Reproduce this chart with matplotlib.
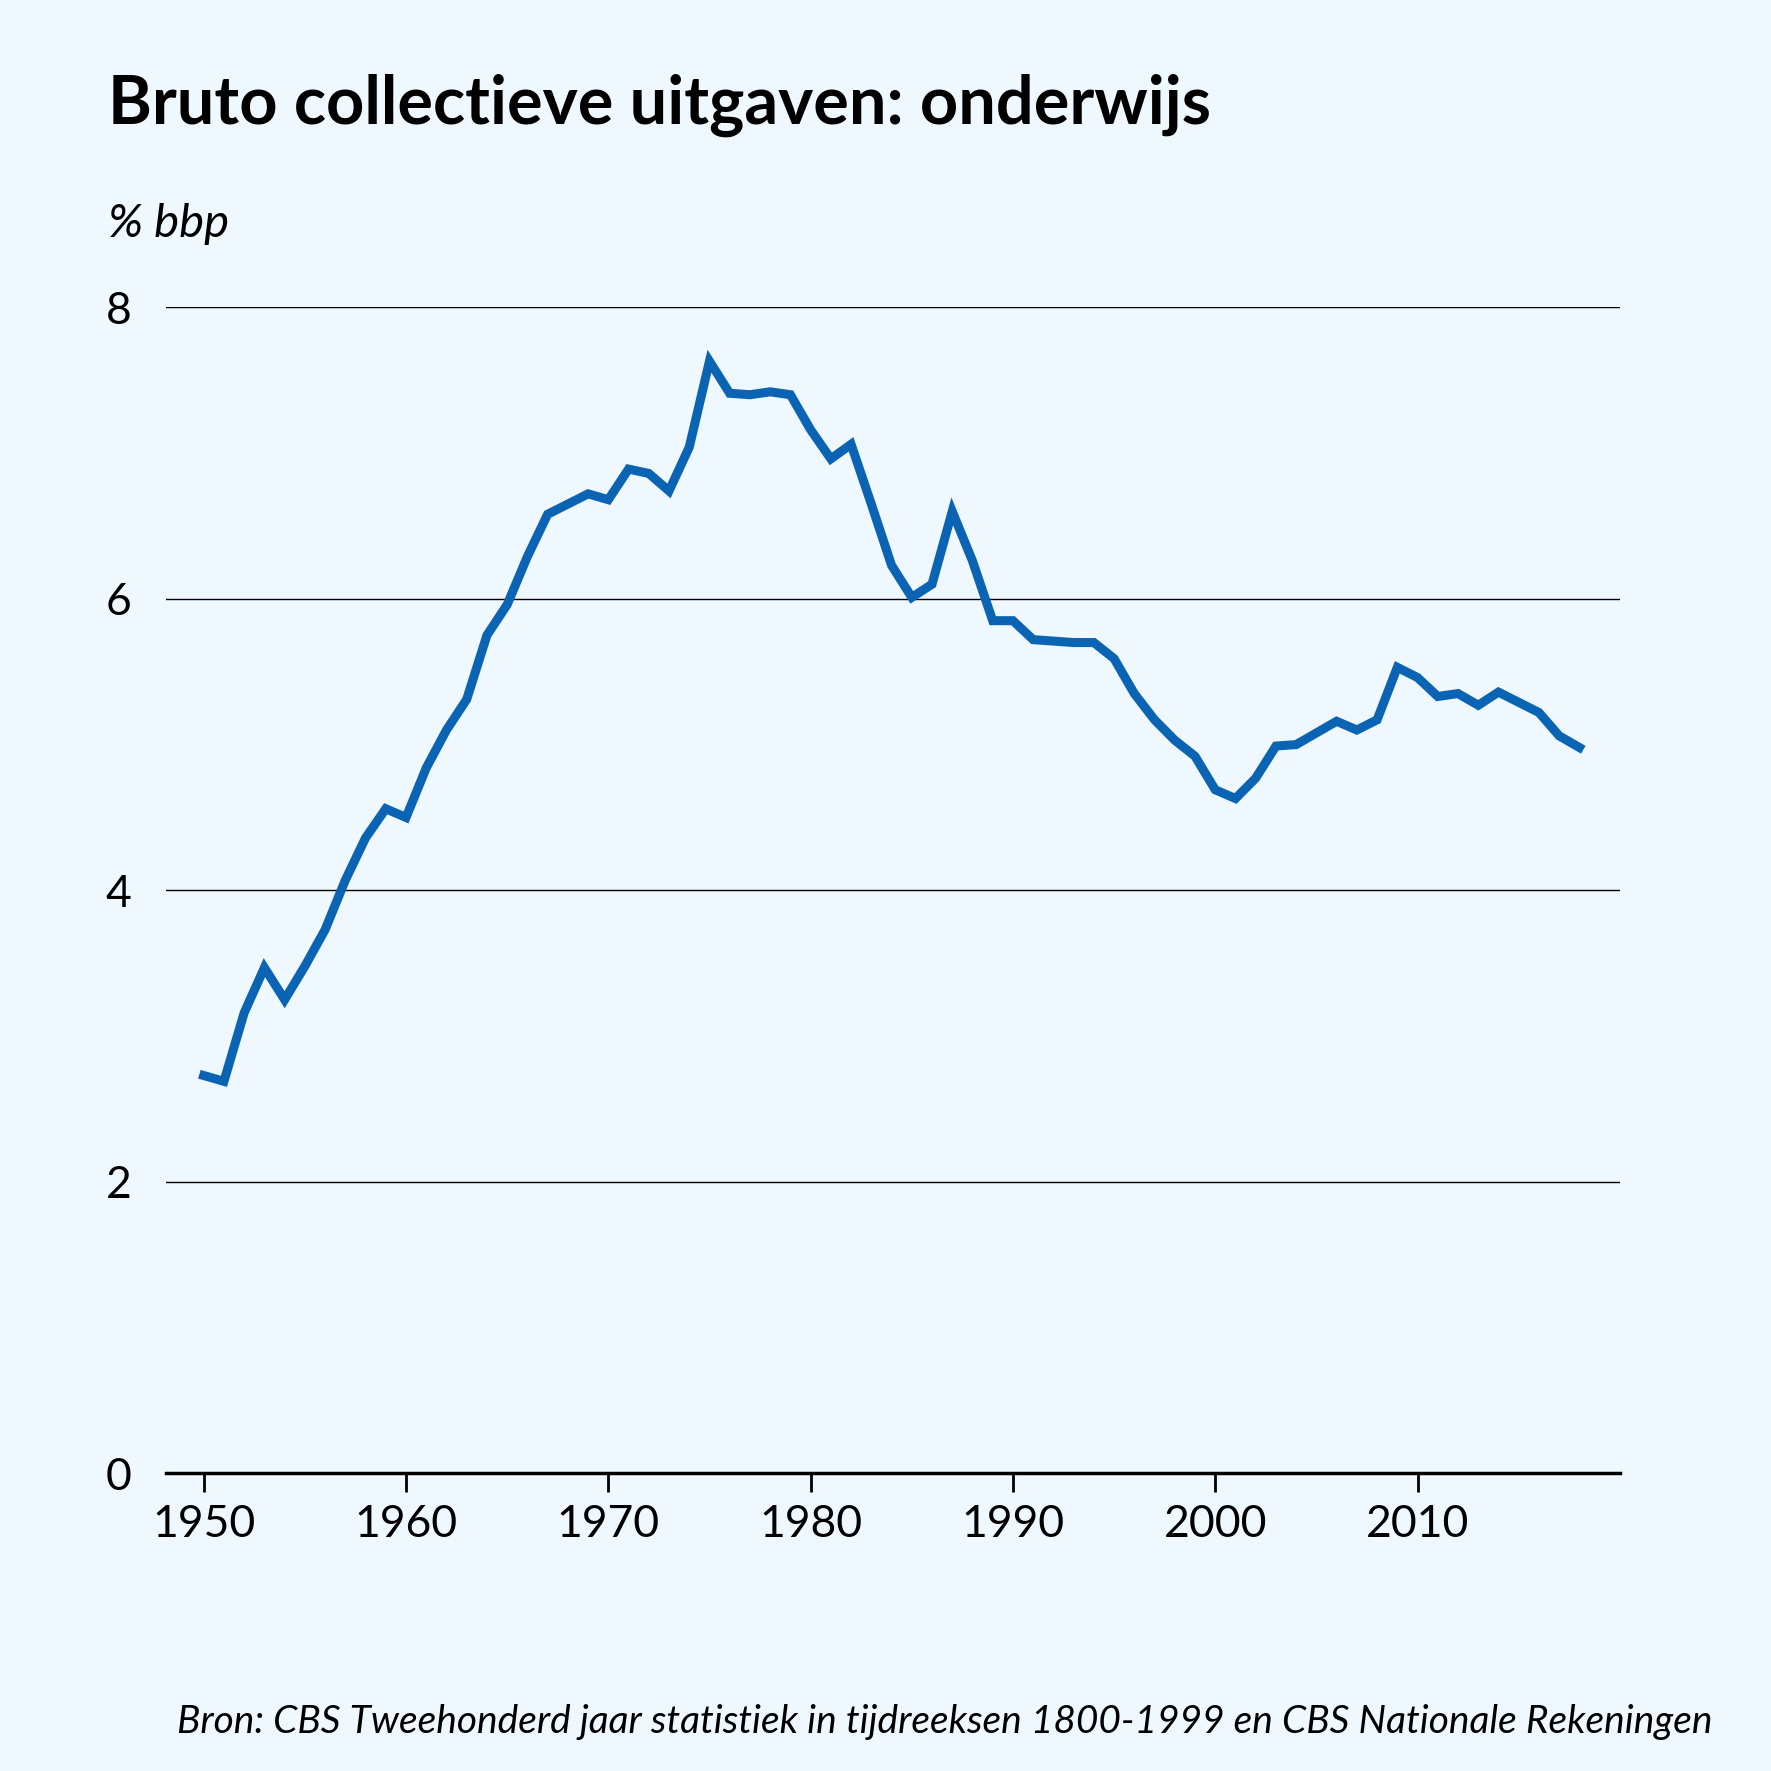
import matplotlib

matplotlib.use("Agg")
import matplotlib.pyplot as plt

years = list(range(1950, 2019))
onderwijs = [
    2.73, 2.69, 3.16, 3.47, 3.25, 3.48, 3.73, 4.07, 4.36, 4.56,
    4.50, 4.84, 5.10, 5.31, 5.75, 5.96, 6.29, 6.58, 6.65, 6.72,
    6.68, 6.89, 6.86, 6.74, 7.04, 7.63, 7.41, 7.40, 7.42, 7.40,
    7.16, 6.96, 7.06, 6.65, 6.23, 6.01, 6.10, 6.60, 6.26, 5.85,
    5.85, 5.72, 5.71, 5.70, 5.70, 5.59, 5.35, 5.17, 5.03, 4.92,
    4.69, 4.63, 4.77, 4.99, 5.00, 5.08, 5.16, 5.10, 5.17, 5.53,
    5.46, 5.33, 5.35, 5.27, 5.36, 5.29, 5.22, 5.06, 4.98,
]
x_ticks = [1950, 1960, 1970, 1980, 1990, 2000, 2010]
y_ticks = [0, 2, 4, 6, 8]

BG = "#eef8fe"
BLUE = "#0b63b3"
NARROW = ["Liberation Sans Narrow", "Lato", "DejaVu Sans"]

plt.rcParams["font.family"] = ["Lato", "DejaVu Sans"]

fig = plt.figure(figsize=(17.71, 17.71), dpi=100, facecolor=BG)
ax = fig.add_axes([0.094, 0.168, 0.821, 0.6585], facecolor=BG)

ax.plot(years, onderwijs, color=BLUE, lw=6.5, solid_joinstyle="miter")
ax.set_xlim(1948.16, 2020.03)
ax.set_ylim(0, 8)
ax.set_xticks(x_ticks)
ax.set_yticks(y_ticks)
ax.grid(axis="y", color="black", lw=1)
for s in ["top", "right", "left"]:
    ax.spines[s].set_visible(False)
ax.spines["bottom"].set_linewidth(2.5)
ax.tick_params(axis="y", length=0, pad=25, labelsize=32)
ax.tick_params(axis="x", length=14, width=2, pad=8, labelsize=32)
ax.set_axisbelow(True)

fig.text(0.061, 0.93, "Bruto collectieve uitgaven: onderwijs",
         fontsize=48, fontweight="bold", va="baseline")
fig.text(0.061, 0.866, "% bbp", fontsize=34, style="italic", va="baseline",
         family=NARROW)
fig.text(0.967, 0.0215, "Bron: CBS Tweehonderd jaar statistiek in tijdreeksen 1800-1999 en CBS Nationale Rekeningen",
         fontsize=28, style="italic", ha="right", va="baseline", family=NARROW)

fig.savefig("out.png", dpi=100, facecolor=BG)
